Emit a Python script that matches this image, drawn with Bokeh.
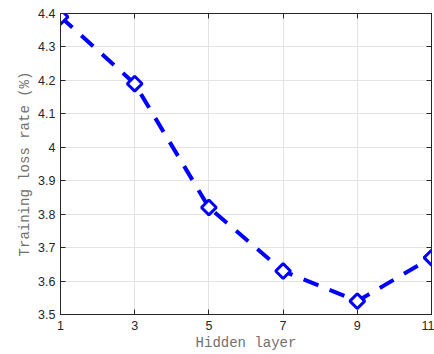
import numpy as np
from bokeh.plotting import figure
from bokeh.models import FixedTicker, LinearAxis, Range1d
from bokeh.embed import file_html
from bokeh.resources import INLINE

hidden_layer = [1, 3, 5, 7, 9, 11]
loss_rate = [4.39, 4.19, 3.82, 3.63, 3.54, 3.67]
x_ticks = [1, 3, 5, 7, 9, 11]
y_ticks = [3.5, 3.6, 3.7, 3.8, 3.9, 4.0, 4.1, 4.2, 4.3, 4.4]
y_tick_labels = ["3.5", "3.6", "3.7", "3.8", "3.9", "4", "4.1", "4.2", "4.3", "4.4"]

p = figure(width=434, height=354, output_backend="svg", toolbar_location=None,
           x_range=Range1d(1, 11), y_range=Range1d(3.5, 4.4),
           min_border_left=60, min_border_right=3, min_border_top=13, min_border_bottom=40)

axis_color = "#262626"
tick_font = "Liberation Sans"
label_font = "Liberation Mono"

def style_axis(ax, ticks):
    ax.ticker = FixedTicker(ticks=ticks)
    ax.axis_line_color = axis_color
    ax.axis_line_width = 1
    ax.major_tick_in = 5
    ax.major_tick_out = 0
    ax.minor_tick_line_color = None
    ax.major_tick_line_color = axis_color
    ax.major_label_text_font = tick_font
    ax.major_label_text_font_size = "12.5px"
    ax.major_label_text_color = axis_color

style_axis(p.xaxis[0], x_ticks)
style_axis(p.yaxis[0], y_ticks)
p.yaxis[0].major_label_overrides = {t: l for t, l in zip(y_ticks, y_tick_labels)}
p.xaxis[0].major_label_standoff = 6
p.yaxis[0].major_label_standoff = 5

p.xaxis[0].axis_label = "Hidden layer"
p.yaxis[0].axis_label = "Training loss rate (%)"
for ax in (p.xaxis[0], p.yaxis[0]):
    ax.axis_label_text_font = label_font
    ax.axis_label_text_font_size = "14px"
    ax.axis_label_text_font_style = "normal"
    ax.axis_label_text_color = "#707070"
    ax.axis_label_standoff = 2

# box-style ticks on top and right (no labels)
top = LinearAxis(major_label_text_color=None, major_label_standoff=0)
right = LinearAxis(major_label_text_color=None, major_label_standoff=0)
for ax, t in ((top, x_ticks), (right, y_ticks)):
    ax.ticker = FixedTicker(ticks=t)
    ax.axis_line_color = axis_color
    ax.major_tick_in = 5
    ax.major_tick_out = 0
    ax.minor_tick_line_color = None
    ax.major_tick_line_color = axis_color
    ax.major_label_text_font_size = "1px"
p.add_layout(top, "above")
p.add_layout(right, "right")

p.xgrid.ticker = FixedTicker(ticks=x_ticks)
p.ygrid.ticker = FixedTicker(ticks=y_ticks)
p.grid.grid_line_color = "#e3e3e3"
p.grid.grid_line_width = 1
p.outline_line_color = axis_color

p.line(hidden_layer, loss_rate, line_color="#0000ff", line_width=4, line_dash="16 12")
p.scatter(hidden_layer, loss_rate, marker="square", angle=np.pi / 4, size=10.5,
          fill_color="white", line_color="#0000ff", line_width=3)

open("out.html", "w").write(file_html(p, INLINE))
